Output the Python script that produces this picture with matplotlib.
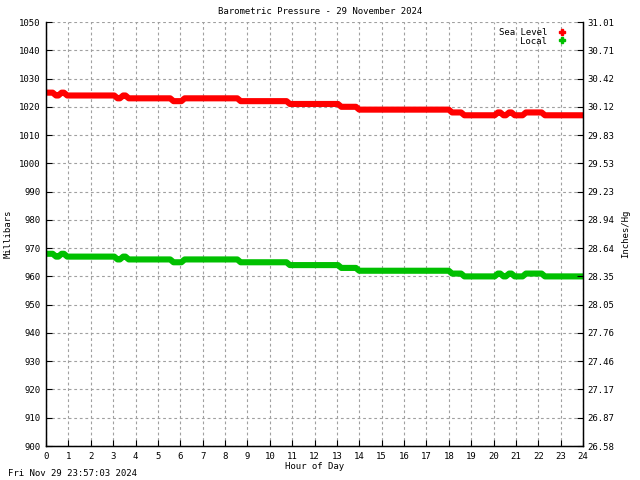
"""Barometric pressure chart, one day of readings."""

import matplotlib

matplotlib.use("Agg")
import matplotlib.pyplot as plt
from matplotlib.lines import Line2D

plt.rcParams["font.family"] = "DejaVu Sans Mono"

hours = [0.0, 0.3, 0.45, 0.55, 0.7, 0.8, 0.95, 3.05, 3.2, 3.3, 3.45, 3.55,
         3.7, 5.55, 5.7, 6.05, 6.2, 8.55, 8.7, 10.75, 10.9, 13.05, 13.2,
         13.85, 14.0, 18.0, 18.15, 18.55, 18.7, 20.05, 20.2, 20.3, 20.45,
         20.55, 20.7, 20.8, 20.95, 21.3, 21.45, 22.15, 22.3, 24.0]
sea_level = [1025, 1025, 1024, 1024, 1025, 1025, 1024, 1024, 1023, 1023,
             1024, 1024, 1023, 1023, 1022, 1022, 1023, 1023, 1022, 1022,
             1021, 1021, 1020, 1020, 1019, 1019, 1018, 1018, 1017, 1017,
             1018, 1018, 1017, 1017, 1018, 1018, 1017, 1017, 1018, 1018,
             1017, 1017]
local = [968, 968, 967, 967, 968, 968, 967, 967, 966, 966,
         967, 967, 966, 966, 965, 965, 966, 966, 965, 965,
         964, 964, 963, 963, 962, 962, 961, 961, 960, 960,
         961, 961, 960, 960, 961, 961, 960, 960, 961, 961,
         960, 960]

mb_ticks = list(range(900, 1051, 10))
inhg_labels = ["26.58", "26.87", "27.17", "27.46", "27.76", "28.05", "28.35",
               "28.64", "28.94", "29.23", "29.53", "29.83", "30.12", "30.42",
               "30.71", "31.01"]
hour_ticks = list(range(0, 25))

FS = 6.5
GRID = dict(color="#a0a0a0", linestyle=(0, (2.5, 2.5)), linewidth=0.8)

fig = plt.figure(figsize=(6.4, 4.8), dpi=100)
ax = fig.add_axes([46 / 640, 34 / 480, 537 / 640, 424 / 480])

ax.plot(hours, sea_level, color="#ff0000", linewidth=4.4, solid_capstyle="butt")
ax.plot(hours, local, color="#00c000", linewidth=4.4, solid_capstyle="butt")

ax.set_xlim(0, 24)
ax.set_ylim(900, 1050)
ax.set_xticks(hour_ticks)
ax.set_yticks(mb_ticks)
ax.tick_params(labelsize=FS, direction="in", length=4, width=0.8, pad=4)
ax.grid(True, **GRID)
for s in ax.spines.values():
    s.set_linewidth(1)
ax.spines["top"].set_visible(False)

ax2 = ax.twinx()
ax2.set_ylim(900, 1050)
ax2.set_yticks(mb_ticks)
ax2.set_yticklabels(inhg_labels)
ax2.tick_params(labelsize=FS, direction="in", length=4, width=0.8, pad=3)
ax2.spines["top"].set_visible(False)

ax.set_xlabel("Hour of Day", fontsize=FS)
ax.xaxis.set_label_coords(0.5, -16 / 424)
ax.set_ylabel("Millibars", fontsize=FS)
ax.yaxis.set_label_coords(-33 / 537, 0.5)
ax2.set_ylabel("Inches/Hg", fontsize=FS)
ax2.yaxis.set_label_coords(1 + 38 / 537, 0.5)
fig.text(0.5, 1 - 12 / 480, "Barometric Pressure - 29 November 2024",
         ha="center", va="center", fontsize=FS)
fig.text(8 / 640, 1 - 474 / 480, "Fri Nov 29 23:57:03 2024",
         ha="left", va="center", fontsize=FS)

handles = [Line2D([], [], color="#ff0000", marker="P", markersize=4, linestyle=""),
           Line2D([], [], color="#00c000", marker="P", markersize=4, linestyle="")]
leg = ax.legend(handles, ["Sea Level", "Local"], loc="upper right",
                bbox_to_anchor=(0.985, 1.005), frameon=False, fontsize=FS,
                markerfirst=False, handlelength=1.0, handletextpad=1.2,
                labelspacing=-0.05)
for t in leg.get_texts():
    t.set_ha("right")

fig.savefig("out.png", dpi=100)
